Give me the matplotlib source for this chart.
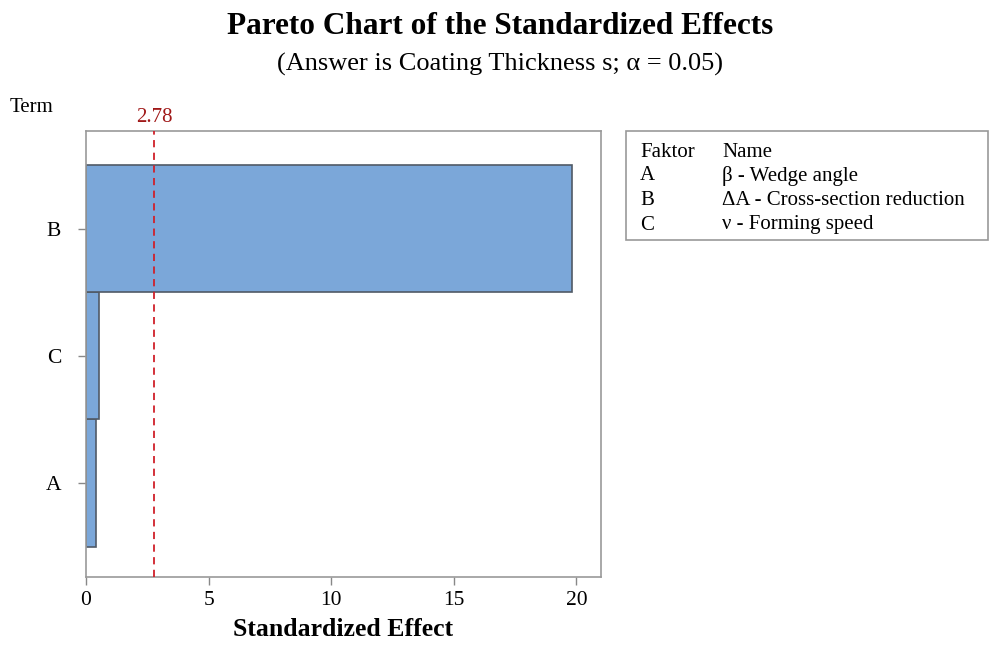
import matplotlib.pyplot as plt
from matplotlib.patches import Rectangle

# data
terms = ['A', 'C', 'B']
effects = [0.4, 0.53, 19.8]
critical = 2.78
legend_codes = ['A', 'B', 'C']
legend_names = ['\u03b2 - Wedge angle', '\u0394A - Cross-section reduction', '\u03bd - Forming speed']

plt.rcParams['font.family'] = ['Liberation Serif', 'DejaVu Serif']

W, H = 990, 646
fig = plt.figure(figsize=(W / 100, H / 100), dpi=100)
ax = fig.add_axes([86 / W, 1 - 577 / H, (601 - 86) / W, (577 - 131) / H])

ax.barh(range(len(terms)), effects, height=1.0, color='#7BA7D9',
        edgecolor='#505a66', linewidth=1.2, zorder=2)
ax.axvline(critical, color='#d0202a', ls=(0, (4, 3)), lw=1.3, zorder=3)
ax.text(critical, 2.8, f'{critical:.2f}', color='#a01818', fontsize=15,
        ha='center', va='bottom')

ax.set_xlim(0, 21.0)
ax.set_ylim(-0.74, 2.77)
ax.set_yticks(range(len(terms)))
ax.set_yticklabels(terms)
ax.set_xticks([0, 5, 10, 15, 20])
ax.tick_params(labelsize=15.5, color='#888888', length=6, width=1)
ax.tick_params(axis='y', pad=12)
ax.tick_params(axis='x', pad=4)
for s in ax.spines.values():
    s.set_color('#999999')
    s.set_linewidth(1.2)
ax.set_xlabel('Standardized Effect', fontsize=18.5, fontweight='bold', labelpad=6)

fig.text(10 / W, 1 - 108 / H, 'Term', fontsize=15, va='center', ha='left')
fig.text(500 / W, 1 - 27 / H, 'Pareto Chart of the Standardized Effects',
         fontsize=22.5, fontweight='bold', ha='center', va='center')
fig.text(500 / W, 1 - 64 / H, '(Answer is Coating Thickness s; \u03b1 = 0.05)',
         fontsize=19, ha='center', va='center')

# factor table box
fig.patches.append(Rectangle((626 / W, 1 - 240 / H), (988 - 626) / W, (240 - 131) / H,
                             transform=fig.transFigure, fill=False,
                             edgecolor='#999999', lw=1.2))
fig.text(640 / W, 1 - 152 / H, 'Faktor', fontsize=15, va='center')
fig.text(722 / W, 1 - 152 / H, 'Name', fontsize=15, va='center')
for i, (c, n) in enumerate(zip(legend_codes, legend_names)):
    y = 1 - (176 + 24.5 * i) / H
    fig.text(640 / W, y, c, fontsize=15, va='center')
    fig.text(722 / W, y, n, fontsize=15, va='center')

fig.savefig('out.png', dpi=100)
